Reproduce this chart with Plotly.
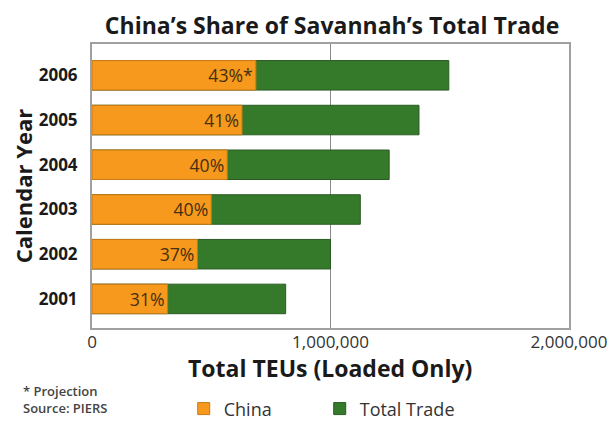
import plotly.graph_objects as go

years = ["2001", "2002", "2003", "2004", "2005", "2006"]
total_trade = [812000, 1000000, 1125000, 1246000, 1371000, 1496000]
china = [317000, 442000, 500000, 567000, 629000, 687000]
share_labels = ["31%", "37%", "40%", "40%", "41%", "43%*"]
x_ticks = [0, 1000000, 2000000]
x_tick_labels = ["0", "1,000,000", "2,000,000"]

ORANGE = "#F7991C"
GREEN = "#347A2A"
FONT = "Open Sans"

fig = go.Figure()
fig.add_trace(go.Bar(
    y=years, x=total_trade, orientation="h", name="Total Trade",
    marker=dict(color=GREEN, line=dict(color="#2A5A22", width=1)),
    width=0.66, hoverinfo="x",
))
fig.add_trace(go.Bar(
    y=years, x=china, orientation="h", name="China",
    marker=dict(color=ORANGE, line=dict(color="#C77A15", width=1)),
    width=0.66, text=share_labels, textposition="inside",
    insidetextanchor="end", textangle=0,
    textfont=dict(family=FONT, size=18, color="#45300F"),
    hoverinfo="x",
))

# page body has an 8px margin, so the figure is 8px smaller than the window
fig.update_layout(
    width=608, height=415,
    barmode="overlay",
    plot_bgcolor="white", paper_bgcolor="white",
    margin=dict(l=84, r=47, t=36, b=95, autoexpand=False),
    font=dict(family=FONT, color="#222"),
    title=dict(text="<b>China’s Share of Savannah’s Total Trade</b>",
               x=0.533, xanchor="center", y=0.956, yanchor="middle",
               font=dict(family=FONT, size=23, color="#1a1a1a")),
    xaxis=dict(range=[0, 2000000], tickvals=x_ticks, ticktext=x_tick_labels,
               automargin=False,
               showgrid=True, gridcolor="#8a8a8a", gridwidth=1,
               showline=True, linecolor="#a0a0a0", linewidth=2, mirror=True,
               zeroline=False, ticks="", ticklabelstandoff=-2,
               tickfont=dict(family=FONT, size=17, color="#333")),
    yaxis=dict(range=[-0.65, 5.7], showgrid=False, automargin=True,
               showline=True, linecolor="#a0a0a0", linewidth=2, mirror=True,
               ticks="", ticklabelstandoff=9,
               tickfont=dict(family=FONT, size=17, color="#1a1a1a", weight="bold"),
               title=dict(text="<b>Calendar Year</b>", standoff=1,
                          font=dict(family=FONT, size=22, color="#1a1a1a"))),
    legend=dict(orientation="h", xref="container", yref="container",
                x=0.289, xanchor="left", y=0.034, yanchor="middle",
                traceorder="reversed", font=dict(family=FONT, size=18, color="#333"),
                itemwidth=30, entrywidth=91, bgcolor="rgba(0,0,0,0)"),
    showlegend=True,
)
# x-axis title
fig.add_annotation(text="<b>Total TEUs (Loaded Only)</b>", xref="paper", yref="paper",
                   x=0.498, y=-0.1408, xanchor="center", yanchor="middle", showarrow=False,
                   font=dict(family=FONT, size=23, color="#1a1a1a"))
fig.add_annotation(text="* Projection<br>Source: PIERS", xref="paper", yref="paper",
                   x=-0.149, y=-0.2535, xanchor="left", yanchor="middle", showarrow=False,
                   align="left", font=dict(family=FONT, size=13, color="#444", weight=600))

fig.write_html("out.html")
